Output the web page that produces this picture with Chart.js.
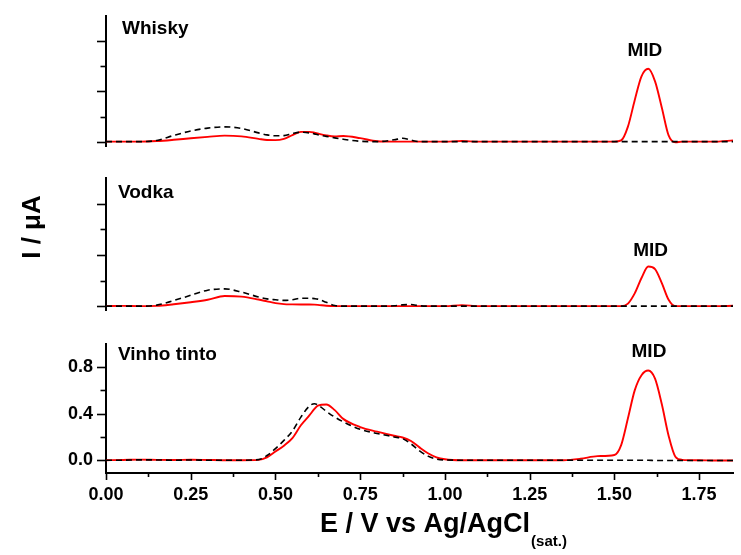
<!DOCTYPE html>
<html><head><meta charset="utf-8">
<script src="https://cdn.jsdelivr.net/npm/chart.js@4"></script>
<style>
html,body{margin:0;padding:0;background:#fff;}
#wrap{position:relative;width:741px;height:555px;background:#fff;overflow:hidden;}
canvas{position:absolute;left:0;}
</style></head><body>
<div id="wrap">
<canvas id="c1" width="741" height="160" style="top:0px"></canvas>
<canvas id="c2" width="741" height="160" style="top:160px"></canvas>
<canvas id="c3" width="741" height="235" style="top:320px"></canvas>
</div>
<script>
// Potential E / V
const E = [0,0.05,0.10,0.15,0.20,0.25,0.30,0.35,0.40,0.45,
  0.475,0.50,0.525,0.55,0.575,0.60,0.615,0.625,0.65,0.675,0.70,
  0.75,0.80,0.85,0.875,0.90,0.925,0.95,0.975,1.00,
  1.05,1.10,1.15,1.20,1.25,1.30,1.35,1.40,1.45,1.50,
  1.52,1.54,1.56,1.58,1.60,1.62,1.64,1.66,1.68,1.70,
  1.75,1.80,1.85];

// Whisky (I / uA)
const whiskyRed = [0,0,0,0.005,0.015,0.027,0.038,0.048,0.042,0.022,
  0.013,0.012,0.022,0.052,0.078,0.078,0.072,0.065,0.05,0.042,0.045,
  0.028,0.003,0,0,0,0,0,0,0,
  0.005,0,0,0,0,0,0,0,0,0,
  0.01,0.12,0.33,0.52,0.58,0.48,0.27,0.05,-0.005,0,
  0,0,0.01];
const whiskyBlack = [0,0,0,0.01,0.05,0.085,0.108,0.118,0.105,0.07,
  0.054,0.047,0.048,0.065,0.075,0.07,0.062,0.055,0.042,0.03,0.019,
  0.003,0,0.015,0.027,0.012,0,0,0,0,
  0,0,0,0,0,0,0,0,0,0,
  0,0,0,0,0,0,0,0,0,0,
  0,0,0];

// Vodka
const vodkaRed = [0,0.002,0,0.002,0.015,0.031,0.05,0.08,0.075,0.052,
  0.038,0.024,0.016,0.014,0.013,0.013,0.012,0.01,0.003,0,0,
  0,0,0,0,0,0,0,0,0,
  0.008,0,0,0,0,0,0,0,0,0,
  0,0.02,0.10,0.22,0.31,0.29,0.18,0.05,0,0,
  0,0,0.003];
const vodkaBlack = [0,0,0,0.008,0.044,0.085,0.125,0.135,0.11,0.072,
  0.057,0.05,0.045,0.05,0.062,0.062,0.059,0.055,0.03,0.005,0,
  0,0,0.003,0.01,0.013,0.003,0,0,0,
  0,0,0,0,0,0,0,0,0,0,
  0,0,0,0,0,0,0,0,0,0,
  0,0,0];

// Vinho tinto
const vinhoRed = [0,0.002,0.005,0.003,0.002,0.004,0.002,0,0,0.003,
  0.025,0.075,0.125,0.19,0.3,0.385,0.44,0.468,0.478,0.43,0.355,
  0.285,0.245,0.21,0.195,0.165,0.11,0.06,0.025,0.008,
  0,0,0,0,0,0,0,0.012,0.035,0.045,
  0.13,0.36,0.60,0.73,0.77,0.70,0.48,0.21,0.03,0.003,
  0,-0.003,-0.003];
const vinhoBlack = [0,0,0.003,0.002,0,0.002,0,0,0,0.005,
  0.04,0.1,0.17,0.25,0.37,0.465,0.485,0.475,0.42,0.37,0.33,
  0.265,0.23,0.2,0.185,0.14,0.08,0.035,0.01,0.002,
  0,0,0,0,0,0,0,0,0,0,
  0,0,0,0,0,-0.003,-0.003,-0.003,-0.003,-0.003,
  -0.003,-0.003,-0.003];

// Axes ticks and labels
const xTickValues = [0,0.25,0.50,0.75,1.00,1.25,1.50,1.75];
const xMinorTicks = [0.125,0.375,0.625,0.875,1.125,1.375,1.625];
const yTickValues = [0,0.4,0.8];
const yMinorTicks = [0.2,0.6];
const panelNames = ['Whisky','Vodka','Vinho tinto'];
const peakName = 'MID';
const midLabelX = [1.59,1.607,1.602];
const midLabelY = [0.68,0.39,0.89];
const yTitle = 'I / \u03BCA';
const xTitleMain = 'E / V vs Ag/AgCl';
const xTitleSub = '(sat.)';

const FONT = '"Liberation Sans", Arial, Helvetica, sans-serif';

const ticksPlugin = {
  id: 'manualTicks',
  afterDraw(chart, args, o) {
    const ctx = chart.ctx, a = chart.chartArea;
    const ys = chart.scales.y, xs = chart.scales.x;
    ctx.save();
    ctx.strokeStyle = '#000';
    ctx.lineWidth = 1.6;
    const seg = (x1,y1,x2,y2) => { ctx.beginPath(); ctx.moveTo(x1,y1); ctx.lineTo(x2,y2); ctx.stroke(); };
    yTickValues.forEach(v => { const p = Math.round(ys.getPixelForValue(v)) + 0.5; seg(a.left - 9, p, a.left, p); });
    yMinorTicks.forEach(v => { const p = Math.round(ys.getPixelForValue(v)) + 0.5; seg(a.left - 5.5, p, a.left, p); });
    if (o.xAxis) {
      xTickValues.forEach(v => { const p = Math.round(xs.getPixelForValue(v)) + 0.5; seg(p, a.bottom, p, a.bottom + 7); });
      xMinorTicks.forEach(v => { const p = Math.round(xs.getPixelForValue(v)) + 0.5; seg(p, a.bottom, p, a.bottom + 4); });
    }
    ctx.restore();
  }
};

const textPlugin = {
  id: 'panelTexts',
  afterDraw(chart, args, o) {
    const ctx = chart.ctx, a = chart.chartArea;
    const ys = chart.scales.y, xs = chart.scales.x;
    ctx.save();
    ctx.fillStyle = '#000';
    ctx.textBaseline = 'alphabetic';
    ctx.font = 'bold 19px ' + FONT;
    ctx.textAlign = 'left';
    ctx.fillText(o.label, a.left + o.dx, a.top + o.dy);
    ctx.textAlign = 'center';
    ctx.fillText(peakName, xs.getPixelForValue(midLabelX[o.idx]), ys.getPixelForValue(midLabelY[o.idx]));
    if (o.yTitle) {
      ctx.save();
      ctx.translate(33, 67);
      ctx.rotate(-Math.PI / 2);
      ctx.font = 'bold 26px ' + FONT;
      ctx.textAlign = 'center';
      ctx.textBaseline = 'middle';
      ctx.fillText(yTitle, 0, 0);
      ctx.restore();
    }
    if (o.xTitle) {
      ctx.font = 'bold 27px ' + FONT;
      const w1 = ctx.measureText(xTitleMain).width;
      ctx.font = 'bold 15px ' + FONT;
      const w2 = ctx.measureText(xTitleSub).width;
      const start = 443 - (w1 + w2) / 2;
      ctx.textAlign = 'left';
      ctx.font = 'bold 27px ' + FONT;
      ctx.fillText(xTitleMain, start, 212);
      ctx.font = 'bold 15px ' + FONT;
      ctx.fillText(xTitleSub, start + w1 + 1, 226);
    }
    ctx.restore();
  }
};

function makePanel(id, idx, red, black, cfg) {
  const pts = arr => E.map((e, i) => ({x: e, y: arr[i]}));
  return new Chart(document.getElementById(id), {
    type: 'line',
    data: {
      datasets: [
        {data: pts(black), borderColor: '#000000', borderWidth: 1.6, borderDash: [6, 4],
         pointRadius: 0, cubicInterpolationMode: 'monotone', fill: false},
        {data: pts(red), borderColor: '#ff0000', borderWidth: 1.9,
         pointRadius: 0, cubicInterpolationMode: 'monotone', fill: false}
      ]
    },
    plugins: [ticksPlugin, textPlugin],
    options: {
      responsive: false,
      animation: false,
      devicePixelRatio: 1,
      events: [],
      layout: {padding: {top: cfg.padTop, bottom: cfg.padBottom, left: 0, right: 8}},
      plugins: {
        legend: {display: false},
        tooltip: {enabled: false},
        manualTicks: {xAxis: cfg.showX},
        panelTexts: {label: panelNames[idx], idx: idx, dx: cfg.dx, dy: cfg.dy, yTitle: cfg.yTitle, xTitle: cfg.showX}
      },
      scales: {
        x: {
          type: 'linear', min: 0, max: 1.85, display: cfg.showX, position: 'bottom',
          grid: {display: false, drawTicks: false},
          border: {display: true, color: '#000', width: 2},
          ticks: {padding: 11, color: '#000', maxRotation: 0, autoSkip: false,
                  font: {family: FONT, size: 18, weight: 'bold'},
                  callback: v => Number(v).toFixed(2)},
          afterBuildTicks: s => { s.ticks = xTickValues.map(v => ({value: v})); },
          afterFit: s => { s.height = cfg.showX ? 82 : 0; }
        },
        y: {
          type: 'linear', min: cfg.yMin, max: 1.0,
          grid: {display: false, drawTicks: false},
          border: {display: true, color: '#000', width: 2},
          ticks: {display: cfg.showX, padding: 13, color: '#000',
                  font: {family: FONT, size: 18, weight: 'bold'},
                  callback: v => Number(v).toFixed(1)},
          afterBuildTicks: s => { s.ticks = yTickValues.map(v => ({value: v})); },
          afterFit: s => { s.width = 106; }
        }
      }
    }
  });
}

makePanel('c1', 0, whiskyRed, whiskyBlack, {padTop: 16, padBottom: 13.3, yMin: -0.04, showX: false, dx: 16, dy: 18, yTitle: false});
makePanel('c2', 1, vodkaRed, vodkaBlack, {padTop: 18.3, padBottom: 10, yMin: -0.03, showX: false, dx: 12, dy: 20, yTitle: true});
makePanel('c3', 2, vinhoRed, vinhoBlack, {padTop: 20.7, padBottom: 0, yMin: -0.11, showX: true, dx: 12, dy: 16, yTitle: false});
</script>
</body></html>
